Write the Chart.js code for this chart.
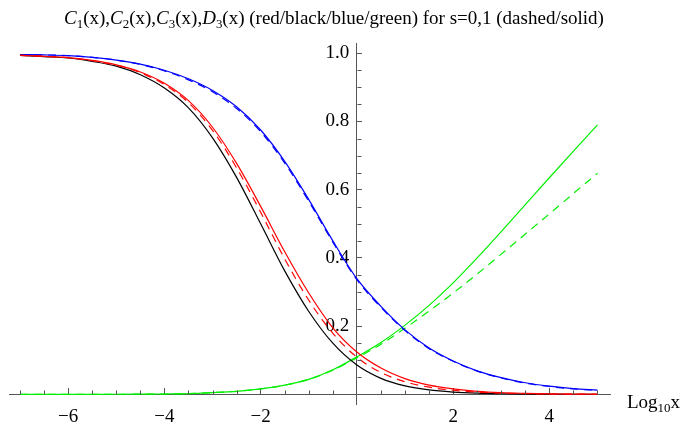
<!DOCTYPE html>
<html><head><meta charset="utf-8">
<script src="https://cdn.jsdelivr.net/npm/chart.js@4.4.1/dist/chart.umd.min.js"></script>
<style>
html,body{margin:0;padding:0;background:#fff;}
#wrap{position:relative;width:686px;height:430px;overflow:hidden;}
canvas{position:absolute;left:0;top:0;}
#title{position:absolute;left:64px;top:7px;font-family:"Liberation Serif",serif;font-size:19px;line-height:normal;color:#000;white-space:nowrap;}
#xlabel{position:absolute;left:627px;top:391px;font-family:"Liberation Serif",serif;font-size:19px;line-height:normal;color:#000;white-space:nowrap;}
.sb{font-size:0.68em;position:relative;top:0.32em;}
</style></head><body>
<div id="wrap">
<canvas id="c" width="686" height="430"></canvas>
<div id="title"><i>C</i><span class="sb">1</span>(x),<i>C</i><span class="sb">2</span>(x),<i>C</i><span class="sb">3</span>(x),<i>D</i><span class="sb">3</span>(x) (red/black/blue/green) for s=0,1 (dashed/solid)</div>
<div id="xlabel">Log<span class="sb">10</span>x</div>
</div>
<script>
// log10 x sample positions
const logX = [-7,-6.5,-6,-5.5,-5,-4.5,-4,-3.5,-3,-2.5,-2,-1.5,-1,-0.5,0,0.5,1,1.5,2,2.5,3,3.5,4,4.5,5];
// C1 (red): s=1 solid, s=0 dashed
const c1Solid  = [0.994,0.991,0.987,0.979,0.966,0.945,0.912,0.861,0.783,0.677,0.551,0.418,0.297,0.195,0.124,0.077,0.046,0.027,0.016,0.009,0.005,0.003,0.0016,0.0009,0.0005];
const c1Dashed = [0.994,0.991,0.987,0.978,0.965,0.943,0.908,0.855,0.774,0.664,0.534,0.397,0.276,0.179,0.109,0.064,0.037,0.021,0.012,0.0065,0.0035,0.002,0.001,0.0006,0.0003];
// C2 (black): s=0 and s=1 coincide
const c2Solid  = [0.994,0.990,0.986,0.976,0.962,0.937,0.898,0.840,0.752,0.636,0.500,0.362,0.243,0.150,0.086,0.047,0.025,0.013,0.0068,0.0035,0.0018,0.0009,0.0005,0.0003,0.0002];
// C3 (blue)
const c3Solid  = [0.996,0.995,0.993,0.988,0.980,0.968,0.950,0.925,0.891,0.843,0.775,0.683,0.571,0.450,0.339,0.258,0.189,0.136,0.098,0.069,0.049,0.034,0.024,0.017,0.0125];
const c3Dashed = [0.996,0.995,0.993,0.988,0.980,0.967,0.948,0.922,0.887,0.838,0.770,0.678,0.566,0.446,0.336,0.255,0.187,0.134,0.097,0.068,0.048,0.033,0.023,0.016,0.012];
// D3 (green)
const d3Solid  = [0.0001,0.0001,0.0001,0.0002,0.0003,0.0005,0.001,0.002,0.005,0.009,0.016,0.027,0.044,0.072,0.110,0.152,0.203,0.261,0.327,0.400,0.477,0.556,0.635,0.713,0.790];
const d3Dashed = [0.0001,0.0001,0.0001,0.0002,0.0003,0.0005,0.001,0.002,0.005,0.009,0.016,0.027,0.044,0.071,0.107,0.147,0.194,0.244,0.297,0.353,0.411,0.470,0.529,0.589,0.648];
// axis ticks
const xTickValues = [-6,-4,-2,2,4];
const xTickLabels = ['\u22126','\u22124','\u22122','2','4'];
const yTickValues = [0.2,0.4,0.6,0.8,1.0];
const yTickLabels = ['0.2','0.4','0.6','0.8','1.0'];
const xMinorStep = 0.5, yMinorStep = 0.05;

const pts = arr => logX.map((x,i)=>({x:x, y:arr[i]}));
function ds(label, arr, color, dashed){
  return {label:label, data:pts(arr), borderColor:color, backgroundColor:color, borderWidth:1.2,
    borderDash: dashed ? [8,6] : [], pointRadius:0, fill:false, cubicInterpolationMode:'monotone', clip:false};
}
const axisColor = '#555';
const tickFont = {family:'Liberation Serif', size:19};

const minorTicks = {
  id:'minorTicks',
  afterDraw(chart){
    const {ctx, scales:{x, y}} = chart;
    const x0 = Math.round(x.getPixelForValue(0))+0.5, y0 = Math.round(y.getPixelForValue(0))+0.5;
    ctx.save(); ctx.strokeStyle = axisColor; ctx.lineWidth = 1; ctx.beginPath();
    for (let k = Math.ceil(-7/xMinorStep); k*xMinorStep <= 5.0001; k++){
      const v = k*xMinorStep; if (Math.abs(v % 2) < 1e-9) continue;
      const px = Math.round(x.getPixelForValue(v))+0.5;
      ctx.moveTo(px, y0); ctx.lineTo(px, y0-4);
    }
    for (let k = 1; k*yMinorStep <= 1.0001; k++){
      if (k % 4 === 0) continue;
      const py = Math.round(y.getPixelForValue(k*yMinorStep))+0.5;
      ctx.moveTo(x0, py); ctx.lineTo(x0+4, py);
    }
    ctx.stroke(); ctx.restore();
  }
};

new Chart(document.getElementById('c'), {
  type:'line',
  data:{datasets:[
    ds('C1 s=1', c1Solid, '#ff0000', false),
    ds('C1 s=0', c1Dashed, '#ff0000', true),
    ds('C2', c2Solid, '#000000', false),
    ds('C3 s=1', c3Solid, '#0000ff', false),
    ds('C3 s=0', c3Dashed, '#0000ff', true),
    ds('D3 s=1', d3Solid, '#00ee00', false),
    ds('D3 s=0', d3Dashed, '#00ee00', true)
  ]},
  options:{
    responsive:false, animation:false, devicePixelRatio:1,
    layout:{padding:{left:9, right:76, top:43, bottom:18}},
    plugins:{legend:{display:false}, tooltip:{enabled:false}, title:{display:false}},
    scales:{
      x:{type:'linear', min:-7.23, max:5.26, position:{y:0},
        afterBuildTicks: s => { s.ticks = xTickValues.map(v=>({value:v})); },
        ticks:{callback:(v)=>{const i = xTickValues.indexOf(v); return i<0?'':xTickLabels[i];}, font:tickFont, color:'#000', padding:18, maxRotation:0, autoSkip:false},
        grid:{drawOnChartArea:false, tickLength:-7, tickColor:axisColor, tickWidth:1},
        border:{color:axisColor, width:1}},
      y:{type:'linear', min:-0.03, max:1.03, position:{x:0},
        afterBuildTicks: s => { s.ticks = yTickValues.map(v=>({value:v})); },
        ticks:{callback:(v)=>{const i = yTickValues.findIndex(t=>Math.abs(t-v)<1e-9); return i<0?'':yTickLabels[i]+'\u2009\u2009';}, font:tickFont, color:'#000', padding:14, autoSkip:false},
        grid:{drawOnChartArea:false, tickLength:-6, tickColor:axisColor, tickWidth:1},
        border:{color:axisColor, width:1}}
    }
  },
  plugins:[minorTicks]
});
</script>
</body></html>
